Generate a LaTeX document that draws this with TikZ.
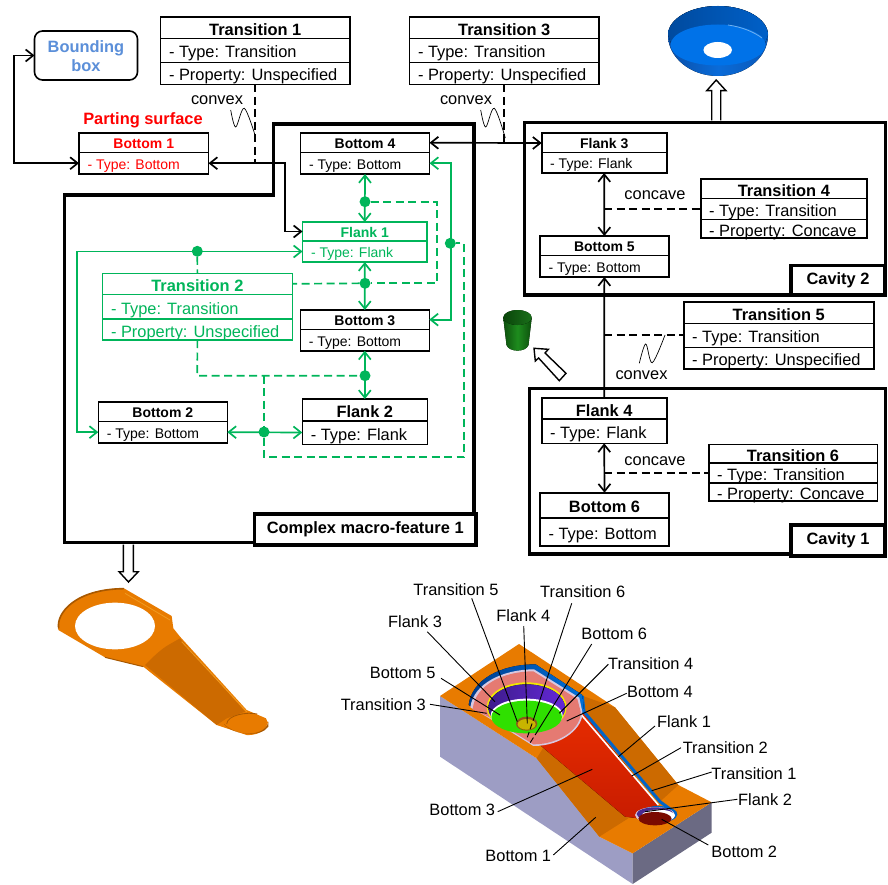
\documentclass[tikz,border=0pt]{standalone}
\usepackage{fontspec}
\setmainfont{Liberation Sans}
\usetikzlibrary{arrows.meta,calc,shapes.geometric}
\definecolor{gr}{HTML}{00B55A}
\definecolor{bbblue}{HTML}{5B8FD9}
\definecolor{org}{HTML}{E87B00}
\definecolor{orgd}{HTML}{CC6A00}
\definecolor{bowlA}{HTML}{0A4FA8}
\definecolor{bowlB}{HTML}{0A58B8}
\definecolor{bowlC}{HTML}{0A6BD8}
\definecolor{bowlD}{HTML}{004A9E}
\definecolor{bowlE}{HTML}{0060C8}
\definecolor{bowlF}{HTML}{0072E8}
\definecolor{bowlH}{HTML}{6FB0F0}
\definecolor{cupA}{HTML}{0D4F0D}
\definecolor{cupB}{HTML}{1E8C1E}
\definecolor{cupC}{HTML}{0A450A}
\definecolor{cupD}{HTML}{1A701A}
\definecolor{orgE}{HTML}{A85800}
\definecolor{orgH}{HTML}{F09A20}
\definecolor{faceL}{HTML}{9D9DC4}
\definecolor{faceR}{HTML}{6B6A83}
\definecolor{redA}{HTML}{E62C00}
\definecolor{redB}{HTML}{C81C00}
\definecolor{bandB}{HTML}{0064C8}
\definecolor{bandL}{HTML}{003C8C}
\definecolor{bandR}{HTML}{0070D8}
\definecolor{pale}{HTML}{D8C8E0}
\definecolor{salmon}{HTML}{E57A72}
\definecolor{yell}{HTML}{F2E800}
\definecolor{purA}{HTML}{3E1C8C}
\definecolor{purB}{HTML}{6428D8}
\definecolor{lime}{HTML}{2FE000}
\definecolor{holeA}{HTML}{8B5A1A}
\definecolor{holeB}{HTML}{C8B400}
\definecolor{purC}{HTML}{4A2A90}
\definecolor{darkred}{HTML}{7A0A00}
\newcommand{\fsbig}{\fontsize{16.4}{18}\selectfont}
\newcommand{\fssm}{\fontsize{14}{16}\selectfont}
\tikzset{
  x=1pt,y=-1pt,
  cell/.style={draw,line width=1.6pt,fill=white,inner sep=0pt,outer sep=0pt,anchor=north west},
  big/.style={font=\fsbig,text height=15pt,text depth=0pt},
  small/.style={font=\fssm,text height=12pt,text depth=0pt},
  grn/.style={draw=gr,text=gr},
  redd/.style={text=red},
  frame/.style={draw,line width=3.5pt,inner sep=0pt,outer sep=0pt,anchor=north west},
  lab/.style={draw,fill=white,line width=3.5pt,inner sep=0pt,outer sep=0pt,anchor=north west,font=\fsbig\bfseries},
  conn/.style={line width=1.7pt,{Straight Barb[length=7.5pt,width=12pt,line width=1.7pt]}-{Straight Barb[length=7.5pt,width=12pt,line width=1.7pt]}},
  conn1/.style={line width=1.7pt,-{Straight Barb[length=7.5pt,width=12pt,line width=1.7pt]}},
  gconn/.style={conn,draw=gr},
  dsh/.style={line width=1.7pt,dash pattern=on 8pt off 4.5pt},
  gdsh/.style={dsh,draw=gr},
  dot/.style={circle,fill=gr,inner sep=0pt,minimum size=11pt,outer sep=0pt},
  txt/.style={font=\fsbig,inner sep=0pt},
  squig/.style={line width=0.7pt},
  hollow/.style={draw,fill=white,line width=1.4pt,line join=miter},
  mlab/.style={font=\fsbig,inner sep=1pt},
  leader/.style={line width=0.9pt},
}
% name x y width height title
\newcommand{\chead}[7][]{\node[cell,big,font=\fsbig\bfseries,#1,minimum width=#5,minimum height=#6] (#2) at (#3,#4) {#7};}
\newcommand{\shead}[7][]{\node[cell,small,font=\fssm\bfseries,#1,minimum width=#5,minimum height=#6] (#2) at (#3,#4) {#7};}
% name parent width height text
\newcommand{\crow}[6][]{\node[cell,big,#1,minimum width=#4,minimum height=#5] (#2) at (#3.south west) {\makebox[\dimexpr#4-17pt\relax][l]{#6}};}
\newcommand{\srow}[6][]{\node[cell,small,#1,minimum width=#4,minimum height=#5] (#2) at (#3.south west) {\makebox[\dimexpr#4-17pt\relax][l]{#6}};}
\begin{document}
\begin{tikzpicture}
\useasboundingbox (0,0) rectangle (888,885);

% ---------- frames
\draw[line width=3.5pt,line join=miter] (64.5,542.7) -- (64.5,195) -- (273.5,195) -- (273.5,124) -- (474,124) -- (474,542.7) -- cycle;
\node[frame,minimum width=361pt,minimum height=172.5pt] (cav2) at (524.3,122.3) {};
\node[frame,minimum width=356pt,minimum height=165.5pt] (cav1) at (529.3,388.5) {};

% ---------- pictures: bowl, cup
\fill[left color=bowlA,right color=bowlB,middle color=bowlC] (668,35) arc[start angle=180,end angle=360,x radius=50,y radius=29] arc[start angle=0,end angle=180,x radius=50,y radius=41] -- cycle;
\fill[left color=bowlD,right color=bowlE] (668,35) arc[start angle=180,end angle=360,x radius=50,y radius=29] -- (765,43) -- (671,43) -- cycle;
\fill[bowlF] (718,45) ellipse[x radius=47.5,y radius=20.5];
\draw[bowlH,line width=0.8pt] (728,25) .. controls (742,27) and (754,32) .. (762,38);
\fill[white] (717.7,50) ellipse[x radius=14.3,y radius=8];
\fill[left color=cupA,right color=cupA,middle color=cupB] (503.3,318) -- (506.5,345) .. controls (509,352.5) and (526,352.5) .. (528.5,345) -- (531.7,318) -- cycle;
\fill[left color=cupC,right color=cupD] (517.5,317.5) ellipse[x radius=14.2,y radius=7.5];

% ---------- handle
\begin{scope}[shift={(20,570)},x=0.33333pt,y=-0.33333pt]
\fill[org] (115,180) .. controls (105,130) and (165,55) .. (312,55) -- (455,138) -- (460,175) -- (480,200) -- (680,420) -- (738,445) .. controls (750,470) and (725,497) .. (680,495) -- (590,465) -- (370,290) -- (255,262) -- cycle;
\fill[orgd] (445,225) -- (480,205) -- (675,425) -- (620,445) -- (590,465) -- (375,285) .. controls (400,260) and (420,240) .. (445,225) -- cycle;
\draw[orgE,line width=1.6pt] (116,175) .. controls (108,130) and (165,57) .. (312,56);
\draw[orgE,line width=1pt] (255,262) -- (370,290);
\draw[orgH,line width=0.8pt] (315,70) -- (450,150);
\draw[orgH,line width=0.8pt] (485,215) -- (680,425);
\fill[orgE] (612,462) .. controls (640,498) and (735,505) .. (745,455) -- (745,470) .. controls (725,500) and (650,500) .. (612,462) -- cycle;
\fill[org] (682,458) ellipse[x radius=62,y radius=24];
\draw[orgE,line width=0.8pt] (620,462) .. controls (622,435) and (680,425) .. (712,432);
\fill[white] (285,168) ellipse[x radius=120,y radius=70];
\end{scope}

% ---------- block
\begin{scope}[shift={(330,570)},x=0.33333pt,y=-0.33333pt]
\fill[faceL] (330,378) -- (620,565) -- (808,800) -- (908,850) -- (908,942) -- (330,560) -- cycle;
\fill[faceR] (908,850) -- (1145,697) -- (1145,788) -- (908,942) -- cycle;
\fill[org] (330,378) -- (567,222) -- (855,412) -- (1045,645) -- (1145,697) -- (908,850) -- (808,800) -- (620,565) -- cycle;
\fill[orgd] (750,375) -- (855,412) -- (1045,645) -- (990,695) -- (760,430) -- cycle;
\fill[orgd] (620,565) -- (808,800) -- (895,745) -- (645,525) -- cycle;
\fill[top color=redA,bottom color=redB] (630,525) -- (760,430) -- (985,705) -- (925,745) -- (885,740) -- cycle;
\draw[bandB,line width=3pt] (757,378) -- (762,425) -- (990,695) -- (1038,730);
\draw[white,line width=1.6pt] (752,385) -- (752,432) -- (985,705);
% cavity
\fill[left color=bandL,right color=bandR] (416,405) .. controls (425,330) and (510,283) .. (617,283) -- (757,375) -- (762,425) -- (600,520) -- (470,436) -- cycle;
\fill[pale] (421,412) .. controls (430,340) and (520,298) .. (612,298) -- (748,383) -- (757,425) .. controls (762,470) and (700,528) .. (610,528) -- (470,440) -- cycle;
\fill[salmon] (428,418) .. controls (435,345) and (520,304) .. (610,304) -- (742,387) -- (752,425) .. controls (756,470) and (695,523) .. (610,523) -- (475,440) -- cycle;
\fill[yell] (590,412) ellipse[x radius=120,y radius=75];
\fill[left color=purA,right color=purB] (590,413) ellipse[x radius=115,y radius=70];
\fill[white] (590,436) ellipse[x radius=108,y radius=50];
\fill[lime] (590,441) ellipse[x radius=106,y radius=49];
\fill[holeA] (590,461) ellipse[x radius=32,y radius=21];
\fill[holeB] (590,463) ellipse[x radius=27,y radius=16];
% pocket
\fill[bandB] (985,733) ellipse[x radius=57,y radius=25];
\fill[pale] (975,735) ellipse[x radius=60,y radius=24];
\fill[purC] (975,732) ellipse[x radius=55,y radius=20];
\fill[white] (985,737) ellipse[x radius=50,y radius=18];
\fill[darkred] (975,746) ellipse[x radius=50,y radius=20];
\end{scope}

% ---------- class boxes
\node[cell,rounded corners=8pt,minimum width=103pt,minimum height=49pt,align=center,font=\fsbig\bfseries,text=bbblue] (bb) at (34.5,31) {\rule{0pt}{13pt}Bounding\\[1pt]box};

\chead{t1}{160.5}{17}{189.5pt}{21.5pt}{Transition 1}
\crow{t1a}{t1}{189.5pt}{24pt}{- Type: Transition}
\crow{t1b}{t1a}{189.5pt}{22pt}{- Property: Unspecified}

\chead{t3}{409.5}{17}{189.5pt}{21.5pt}{Transition 3}
\crow{t3a}{t3}{189.5pt}{24pt}{- Type: Transition}
\crow{t3b}{t3a}{189.5pt}{22pt}{- Property: Unspecified}

\node[font=\fsbig\bfseries,text=red,inner sep=0pt] (ps) at (143,120.5) {Parting surface};
\shead[redd]{b1}{79}{133}{129.5pt}{19.5pt}{Bottom 1}
\srow[redd]{b1a}{b1}{129.5pt}{21.5pt}{- Type: Bottom}

\shead{b4}{300.5}{133}{129pt}{19.5pt}{Bottom 4}
\srow{b4a}{b4}{129pt}{21.5pt}{- Type: Bottom}

\shead[grn]{f1}{302.5}{222}{124.5pt}{19pt}{Flank 1}
\srow[grn]{f1a}{f1}{124.5pt}{21pt}{- Type: Flank}

\chead[grn]{t2}{102.5}{273.3}{189.8pt}{21pt}{Transition 2}
\crow[grn]{t2a}{t2}{189.8pt}{24.7pt}{- Type: Transition}
\crow[grn]{t2b}{t2a}{189.8pt}{21pt}{- Property: Unspecified}

\shead{b3}{300.3}{310}{129pt}{19.3pt}{Bottom 3}
\srow{b3a}{b3}{129pt}{21.4pt}{- Type: Bottom}

\chead{f2}{302.3}{399}{125pt}{21.7pt}{Flank 2}
\crow{f2a}{f2}{125pt}{23.6pt}{- Type: Flank}

\shead{b2}{98.3}{401.7}{129pt}{19.6pt}{Bottom 2}
\srow{b2a}{b2}{129pt}{21.7pt}{- Type: Bottom}

\shead{f3}{541.7}{133.3}{125pt}{19.4pt}{Flank 3}
\srow{f3a}{f3}{125pt}{20.3pt}{- Type: Flank}

\shead{b5}{540}{236}{128.7pt}{19.7pt}{Bottom 5}
\srow{b5a}{b5}{128.7pt}{21.3pt}{- Type: Bottom}

\chead{t4}{700.7}{179.3}{166.3pt}{19.4pt}{Transition 4}
\crow{t4a}{t4}{166.3pt}{21pt}{- Type: Transition}
\crow{t4b}{t4a}{166.3pt}{18.3pt}{- Property: Concave}

\chead{t5}{683.7}{302}{190pt}{21.3pt}{Transition 5}
\crow{t5a}{t5}{190pt}{24pt}{- Type: Transition}
\crow{t5b}{t5a}{190pt}{21.4pt}{- Property: Unspecified}

\chead{f4}{541.7}{398}{125pt}{21pt}{Flank 4}
\crow{f4a}{f4}{125pt}{24.3pt}{- Type: Flank}

\chead{b6}{540}{492.7}{129pt}{25.3pt}{Bottom 6}
\crow{b6a}{b6}{129pt}{28pt}{- Type: Bottom}

\chead{t6}{708.7}{444.3}{168.6pt}{18.7pt}{Transition 6}
\crow{t6a}{t6}{168.6pt}{19.7pt}{- Type: Transition}
\crow{t6b}{t6a}{168.6pt}{18pt}{- Property: Concave}

\node[lab,minimum width=221.5pt,minimum height=31pt] (lcm) at (254.5,514) {Complex macro-feature 1};
\node[lab,minimum width=94pt,minimum height=29.5pt] (lc2) at (791,265.7) {Cavity 2};
\node[lab,minimum width=94pt,minimum height=31pt] (lc1) at (791,525) {Cavity 1};

% ---------- black connectors
\coordinate (j0) at (14,100);
\coordinate (j1) at (285,200);
\coordinate (jt1) at (255.25,163.25);
\coordinate (jt3) at (504.25,142.75);
\draw[conn] (bb.west) -| (j0) |- (b1a.west);
\draw[conn] (b1a.east) -| (j1) |- (f1.west);
\draw[dsh] (t1b.south) -- (jt1);
\draw[conn] (b4.east) -- (f3.west);
\draw[dsh] (t3b.south) -- (jt3);
\draw[conn] (f3a.south) -- (b5.north);
\coordinate (jt4) at (f3a.south |- t4a.west);
\draw[dsh] (jt4) -- (t4a.west);
\draw[conn1] (f4.north) -- (b5a.south);
\coordinate (jt5) at (f4.north |- t5a.west);
\draw[dsh] (jt5) -- (t5a.west);
\draw[conn] (f4a.south) -- (b6.north);
\coordinate (jt6) at (f4a.south |- t6a.west);
\draw[dsh] (jt6) -- (t6a.west);

% convex squiggles and labels
\node[txt] (cx1) at (217,100) {convex};
\node[txt] (cx3) at (466,100) {convex};
\node[txt] (cx5) at (641.5,375) {convex};
\node[txt] (cc4) at (655,195) {concave};
\node[txt] (cc6) at (655,460.7) {concave};
\draw[squig] plot[smooth,tension=0.55] coordinates {(230.7,110) (235.7,127) (244.3,108.3) (255.3,136)};
\draw[squig] plot[smooth,tension=0.55] coordinates {(480.7,110) (485.7,127) (494.3,108.3) (505.3,138)};
\draw[squig] plot[smooth,tension=0.55] coordinates {(639.3,363.3) (645.7,344) (652.3,362.7) (665,335)};

% ---------- green connectors
\node[dot] (d1) at (365,201.7) {};
\node[dot] (d2) at (365,283.3) {};
\node[dot] (d3) at (365,375.7) {};
\node[dot] (d4) at (264,432) {};
\node[dot] (d5) at (450.3,243.3) {};
\node[dot] (d6) at (197.3,251.3) {};
\coordinate (g1) at (436.7,240);
\coordinate (g2) at (450.7,240);
\coordinate (g3) at (76.7,340);
\coordinate (g4) at (264,375.7);
\coordinate (g5) at (264,457.3);
\coordinate (g6) at (464,457.3);
\coordinate (g7) at (197.3,375.7);
\draw[gconn] (b4a.south) -- (f1.north);
\draw[gconn] (f1a.south) -- (b3.north);
\draw[gconn] (b3a.south) -- (f2.north);
\draw[gconn] (b4a.east) -| (g2) |- (b3.east);
\draw[gconn] (f1a.west) -| (g3) |- (b2a.west);
\draw[gconn] (b2a.east) -- (f2a.west);
\draw[gdsh] (d1) -| (g1) |- (d2);
\draw[gdsh] (d2) -- (t2.east);
\draw[gdsh] (d6) -- (t2.north);
\draw[gdsh] (t2b.south) -- (g7) -- (d3);
\draw[gdsh] (g4) -- (d4) -- (g5) -- (g6) |- (d5);

% ---------- hollow arrows
\draw[hollow] (123.3,544.5) -- (123.3,571.7) -- (119,571.7) -- (128.5,582) -- (138.3,571.7) -- (133.3,571.7) -- (133.3,544.5);
\draw[hollow] (711.7,120.5) -- (711.7,90.7) -- (706.7,90.7) -- (716.2,80) -- (726,90.7) -- (720.7,90.7) -- (720.7,120.5);
\draw[hollow] (534,348.3) -- (548.3,349.3) -- (545,353) -- (566,373.3) -- (559.3,380.7) -- (538.6,358) -- (535.3,361) -- cycle;

% ---------- 3D labels
\node[mlab] (lT5) at (456,589.3) {Transition 5};
\node[mlab] (lT6) at (582.7,592) {Transition 6};
\node[mlab] (lF4) at (523.3,616) {Flank 4};
\node[mlab] (lF3) at (415,622) {Flank 3};
\node[mlab] (lB6) at (614.3,634.3) {Bottom 6};
\node[mlab] (lT4) at (650.7,663.3) {Transition 4};
\node[mlab] (lB5) at (402.7,673.3) {Bottom 5};
\node[mlab] (lB4) at (660,692.3) {Bottom 4};
\node[mlab] (lT3) at (383.3,705) {Transition 3};
\node[mlab] (lF1) at (684,721.3) {Flank 1};
\node[mlab] (lT2) at (725.3,747.3) {Transition 2};
\node[mlab] (lT1) at (754,774) {Transition 1};
\node[mlab] (lF2) at (765,799.3) {Flank 2};
\node[mlab] (lB3) at (462.3,810.3) {Bottom 3};
\node[mlab] (lB2) at (744.3,852.3) {Bottom 2};
\node[mlab] (lB1) at (518.3,856.3) {Bottom 1};
\coordinate (eT5) at (517.3,721.7);
\coordinate (eT6) at (535,715);
\coordinate (eT6b) at (527.3,737.3);
\coordinate (eF4) at (527.3,723.3);
\coordinate (eF3) at (495,701.7);
\coordinate (eB6) at (538.3,730);
\coordinate (eB6b) at (529.3,744);
\coordinate (eT4) at (559.3,713.3);
\coordinate (eB5) at (500,715);
\coordinate (eB4) at (566.7,721);
\coordinate (eT3) at (486.7,713.3);
\coordinate (eF1) at (618.3,756.7);
\coordinate (eT2) at (631.7,776);
\coordinate (eT1) at (651.7,790.7);
\coordinate (eF2) at (645,811.7);
\coordinate (eB3) at (592.3,769.3);
\coordinate (eB2) at (661.7,819.3);
\coordinate (eB1) at (595.7,817.3);
\draw[leader] ([shift={(15.7,9)}]lT5.center) -- (eT5);
\draw[leader] ([shift={(-11,11.3)}]lT6.center) -- (eT6);
\draw[leader,dash pattern=on 6pt off 3pt] (eT6) -- (eT6b);
\draw[leader] ([shift={(0.4,10)}]lF4.center) -- (eF4);
\draw[leader] ([shift={(12.3,9.7)}]lF3.center) -- (eF3);
\draw[leader] ([shift={(-22.6,9.7)}]lB6.center) -- (eB6);
\draw[leader,dash pattern=on 6pt off 3pt] (eB6) -- (eB6b);
\draw[leader] ([shift={(-42.4,1)}]lT4.center) -- (eT4);
\draw[leader] ([shift={(38.3,5)}]lB5.center) -- (eB5);
\draw[leader] ([shift={(-33.3,1)}]lB4.center) -- (eB4);
\draw[leader] ([shift={(46.7,-0.7)}]lT3.center) -- (eT3);
\draw[leader] ([shift={(-29,4.7)}]lF1.center) -- (eF1);
\draw[leader] ([shift={(-44.3,0.4)}]lT2.center) -- (eT2);
\draw[leader] ([shift={(-42.3,-2)}]lT1.center) -- (eT1);
\draw[leader] ([shift={(-27.7,0)}]lF2.center) -- (eF2);
\draw[leader] ([shift={(35.4,1.4)}]lB3.center) -- (eB3);
\draw[leader] ([shift={(-36,-7.3)}]lB2.center) -- (eB2);
\draw[leader] ([shift={(35,-1.3)}]lB1.center) -- (eB1);
\end{tikzpicture}
\end{document}
